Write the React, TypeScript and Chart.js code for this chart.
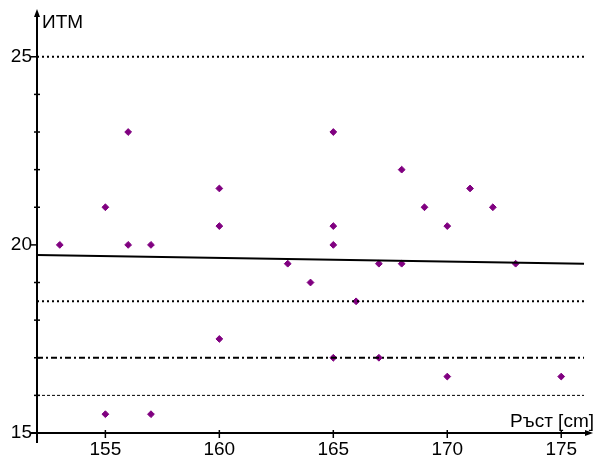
import React, { useEffect, useRef } from "react";
import { Chart, registerables } from "chart.js";

Chart.register(...registerables);

// ---- Data ----
const heights = [153, 155, 155, 156, 156, 157, 157, 160, 160, 160, 163, 164, 165, 165, 165, 165, 166, 167, 167, 168, 168, 169, 170, 170, 171, 172, 173, 175];
const bmi = [20, 21, 15.5, 23, 20, 20, 15.5, 21.5, 20.5, 17.5, 19.5, 19, 23, 20.5, 20, 17, 18.5, 19.5, 17, 22, 19.5, 21, 20.5, 16.5, 21.5, 21, 19.5, 16.5];
const trendX = [152, 176];
const trendY = [19.73, 19.5];
const refLevels = [25, 18.5, 17, 16];
const xTicks = [155, 160, 165, 170, 175];
const yTicks = [15, 20, 25];
const yMinorTicks = [16, 17, 18, 19, 21, 22, 23, 24];
const xTitle = "Ръст [cm]";
const yTitle = "ИТМ";

const X_MIN = 152;
const X_MAX = 176.35;
const Y_MIN = 15;
const Y_MAX = 26.19;
const REF_END = 176;

const FONT = "'Liberation Sans', Arial, Helvetica, sans-serif";
const refDashes = [[2, 3], [2, 3], [6, 3, 2, 3], [3, 2]];
const refWidths = [2, 2, 2, 1];

const axesPlugin = {
  id: "customAxes",
  afterDatasetsDraw(chart: any) {
    const { ctx } = chart;
    const xs = chart.scales.x;
    const ys = chart.scales.y;
    const x0 = xs.getPixelForValue(X_MIN);
    const y0 = ys.getPixelForValue(Y_MIN);
    const top = chart.chartArea.top;
    const right = chart.chartArea.right;
    ctx.save();
    ctx.strokeStyle = "#000";
    ctx.fillStyle = "#000";
    ctx.lineWidth = 2;
    // y axis
    ctx.beginPath();
    ctx.moveTo(x0, y0 + 10);
    ctx.lineTo(x0, top);
    ctx.stroke();
    ctx.beginPath();
    ctx.moveTo(x0, top - 3);
    ctx.lineTo(x0 - 3, top + 5);
    ctx.lineTo(x0 + 3, top + 5);
    ctx.closePath();
    ctx.fill();
    // x axis
    ctx.beginPath();
    ctx.moveTo(x0 - 6, y0);
    ctx.lineTo(right - 2, y0);
    ctx.stroke();
    ctx.beginPath();
    ctx.moveTo(right + 1, y0);
    ctx.lineTo(right - 7, y0 - 3);
    ctx.lineTo(right - 7, y0 + 3);
    ctx.closePath();
    ctx.fill();
    // y major ticks
    ctx.lineWidth = 1.5;
    yTicks.forEach((v) => {
      const p = ys.getPixelForValue(v);
      ctx.beginPath();
      ctx.moveTo(x0 - 6, p);
      ctx.lineTo(x0, p);
      ctx.stroke();
    });
    // y minor ticks
    yMinorTicks.forEach((v) => {
      const p = ys.getPixelForValue(v);
      ctx.beginPath();
      ctx.moveTo(x0 - 3, p);
      ctx.lineTo(x0 + 3, p);
      ctx.stroke();
    });
    // x ticks
    xTicks.forEach((v) => {
      const p = xs.getPixelForValue(v);
      ctx.beginPath();
      ctx.moveTo(p, y0 - 3);
      ctx.lineTo(p, y0 + 5);
      ctx.stroke();
    });
    // titles
    ctx.font = `19px ${FONT}`;
    ctx.textBaseline = "alphabetic";
    ctx.textAlign = "left";
    ctx.fillText(yTitle, x0 + 5, top + 16);
    ctx.textAlign = "right";
    ctx.fillText(xTitle, right + 2, y0 - 6);
    ctx.restore();
  },
};

export default function App() {
  const ref = useRef<HTMLCanvasElement | null>(null);
  useEffect(() => {
    if (!ref.current) return;
    const refDatasets = refLevels.map((lv, i) => ({
      type: "scatter" as const,
      data: [
        { x: X_MIN, y: lv },
        { x: REF_END, y: lv },
      ],
      showLine: true,
      borderColor: "#000",
      borderWidth: refWidths[i],
      borderDash: refDashes[i],
      pointRadius: 0,
      fill: false,
    }));
    const chart = new Chart(ref.current, {
      type: "scatter",
      data: {
        datasets: [
          ...refDatasets,
          {
            data: trendX.map((x, i) => ({ x, y: trendY[i] })),
            showLine: true,
            borderColor: "#000",
            borderWidth: 2,
            pointRadius: 0,
            fill: false,
          },
          {
            data: heights.map((h, i) => ({ x: h, y: bmi[i] })),
            pointStyle: "rectRot",
            pointRadius: 3.4,
            pointBorderWidth: 1,
            backgroundColor: "#800080",
            borderColor: "#800080",
          },
        ],
      },
      options: {
        animation: false,
        responsive: false,
        events: [],
        layout: { padding: { top: 12, right: 2, left: 0, bottom: 0 } },
        plugins: { legend: { display: false }, tooltip: { enabled: false } },
        scales: {
          x: {
            type: "linear",
            min: X_MIN,
            max: X_MAX,
            afterFit: (s: any) => {
              s.height = 26;
              s.paddingLeft = 0;
              s.paddingRight = 0;
            },
            afterBuildTicks: (s: any) => {
              s.ticks = xTicks.map((v) => ({ value: v }));
            },
            grid: { display: false, drawTicks: false },
            border: { display: false },
            ticks: {
              color: "#000",
              font: { size: 19, family: FONT },
              padding: 5,
              maxRotation: 0,
              autoSkip: false,
              callback: (v: any) => String(v),
            },
          },
          y: {
            type: "linear",
            min: Y_MIN,
            max: Y_MAX,
            afterFit: (s: any) => {
              s.width = 37;
              s.paddingTop = 0;
              s.paddingBottom = 0;
            },
            afterBuildTicks: (s: any) => {
              s.ticks = yTicks.map((v) => ({ value: v }));
            },
            grid: { display: false, drawTicks: false },
            border: { display: false },
            ticks: {
              color: "#000",
              font: { size: 19, family: FONT },
              padding: 5,
              autoSkip: false,
              callback: (v: any) => String(v),
            },
          },
        },
      },
      plugins: [axesPlugin],
    });
    return () => chart.destroy();
  }, []);
  return (
    <div style={{ position: "absolute", left: 0, top: 0, width: 597, height: 459, background: "#fff" }}>
      <canvas ref={ref} width={597} height={459} style={{ display: "block" }} />
    </div>
  );
}
